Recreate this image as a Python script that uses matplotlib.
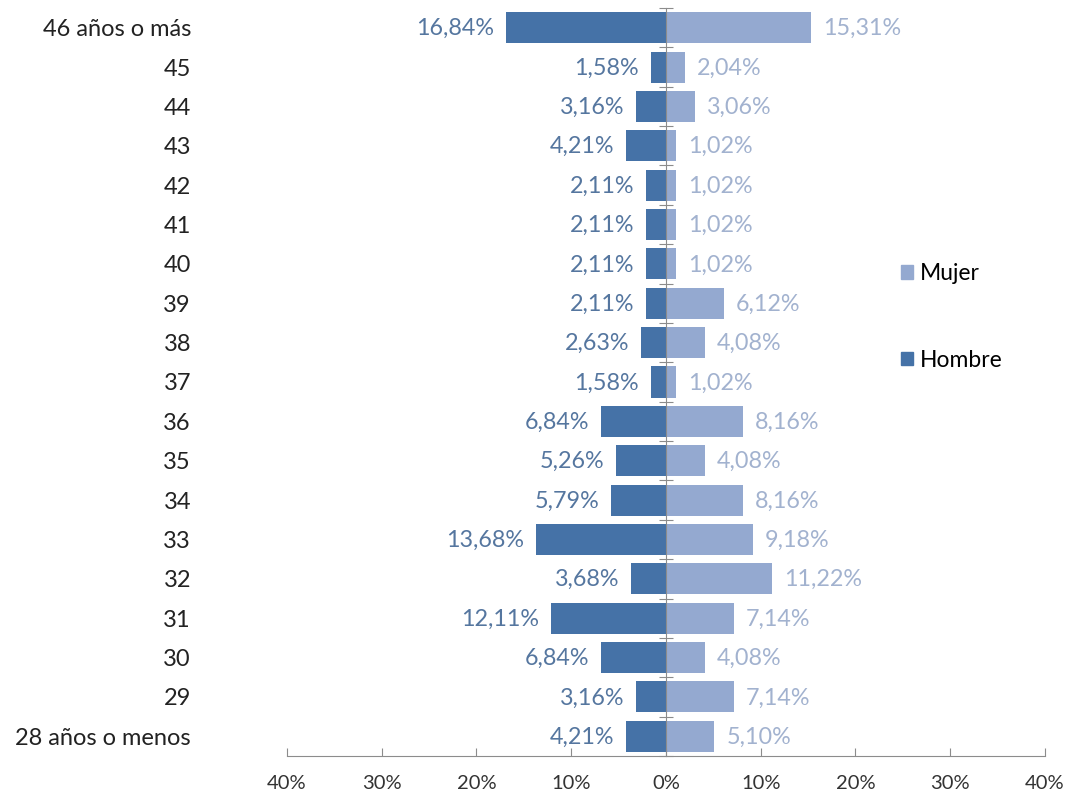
import matplotlib
matplotlib.use("Agg")
import matplotlib.pyplot as plt
from matplotlib.patches import Patch
from matplotlib.ticker import FixedLocator

categories = ["28 años o menos", "29", "30", "31", "32", "33", "34", "35", "36", "37",
              "38", "39", "40", "41", "42", "43", "44", "45", "46 años o más"]
hombre = [4.21, 3.16, 6.84, 12.11, 3.68, 13.68, 5.79, 5.26, 6.84, 1.58,
          2.63, 2.11, 2.11, 2.11, 2.11, 4.21, 3.16, 1.58, 16.84]
mujer = [5.10, 7.14, 4.08, 7.14, 11.22, 9.18, 8.16, 4.08, 8.16, 1.02,
         4.08, 6.12, 1.02, 1.02, 1.02, 1.02, 3.06, 2.04, 15.31]
xticks = [-40, -30, -20, -10, 0, 10, 20, 30, 40]

C_H = "#4572A7"
C_M = "#94A9D0"
T_H = "#55769F"
T_M = "#A2B2CF"
FONT = "Lato"

plt.rcParams["font.family"] = [FONT, "DejaVu Sans"]

fig = plt.figure(figsize=(10.68, 7.97), dpi=100)
ax = fig.add_axes([287/1068, 1-756/797, (1045-287)/1068, (756-8)/797])

y = list(range(len(categories)))
ax.barh(y, [-v for v in hombre], height=0.79, color=C_H, label="Hombre")
ax.barh(y, mujer, height=0.79, color=C_M, label="Mujer")

def fmt(v):
    return f"{v:.2f}%".replace(".", ",")

for yi, v in zip(y, hombre):
    ax.annotate(fmt(v), (-v, yi), xytext=(-12, -1), textcoords="offset pixels",
                ha="right", va="center", fontsize=16.8, color=T_H)
for yi, v in zip(y, mujer):
    ax.annotate(fmt(v), (v, yi), xytext=(12, -1), textcoords="offset pixels",
                ha="left", va="center", fontsize=16.8, color=T_M)

ax.set_xlim(-40, 40)
ax.set_ylim(-0.5, len(categories) - 0.5)

# category labels at left
for yi, c in zip(y, categories):
    ax.annotate(c, (0, yi), xycoords=("axes fraction", "data"), xytext=(-96, -2),
                textcoords="offset pixels", ha="right", va="center",
                fontsize=17, color="#222222")

for s in ["top", "right"]:
    ax.spines[s].set_visible(False)
ax.spines["left"].set_position(("data", 0))
ax.spines["left"].set_color("#8C8C8C")
ax.spines["bottom"].set_color("#8C8C8C")
ax.yaxis.set_major_locator(FixedLocator([i - 0.5 for i in range(len(categories) + 1)]))
ax.set_yticklabels([])
ax.tick_params(axis="y", direction="inout", length=10, color="#8C8C8C")
ax.set_xticks(xticks)
ax.set_xticklabels([f"{abs(t)}%" for t in xticks], fontsize=14.5, color="#333333")
ax.tick_params(axis="x", direction="in", length=6, color="#8C8C8C", pad=14)

handles = [Patch(color=C_M, label="Mujer"), Patch(color=C_H, label="Hombre")]
fig.legend(handles=handles, loc="center left", bbox_to_anchor=(880/1068, 1-317/797),
           frameon=False, fontsize=16.5, labelspacing=2.85, handlelength=0.55,
           handleheight=0.55, handletextpad=0.3)

fig.savefig("out.png", dpi=100)
